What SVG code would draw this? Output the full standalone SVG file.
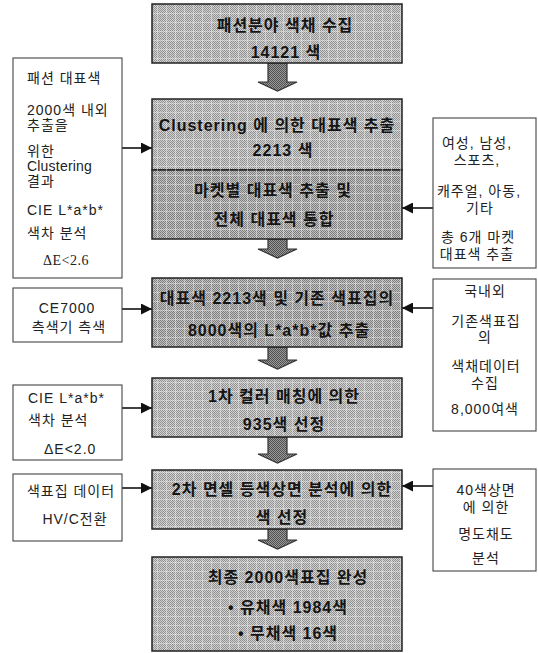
<svg xmlns="http://www.w3.org/2000/svg" width="538" height="653" viewBox="0 0 538 653">
<defs>
<style>
.bg{fill:#fff}
.mainbox{stroke:#222;stroke-width:1.5}
.grid{fill:url(#grid)}
.side{fill:#fff;stroke:#444;stroke-width:1.1}
.mt{font-family:"Liberation Sans","Noto Sans CJK KR",sans-serif;font-weight:bold;font-size:16px;fill:#151515;text-anchor:middle;dominant-baseline:central;letter-spacing:1px}
.st{font-family:"Liberation Sans","Noto Sans CJK KR",sans-serif;font-size:14px;fill:#222;dominant-baseline:central;letter-spacing:1px}
.stc{text-anchor:middle}
.sf{font-family:"Liberation Serif","DejaVu Serif",serif;letter-spacing:0.5px}
.big{fill:url(#dark);stroke:#333;stroke-width:1.2}
.link{stroke:#111;stroke-width:1.6;fill:none;marker-end:url(#ah)}
</style>
<pattern id="chk" width="2" height="2" patternUnits="userSpaceOnUse"><rect width="2" height="2" fill="#d2d2d2"/><rect width="1" height="1" fill="#909090"/><rect x="1" y="1" width="1" height="1" fill="#909090"/></pattern>
<pattern id="chk2" width="2" height="2" patternUnits="userSpaceOnUse"><rect width="2" height="2" fill="#c4c4c4"/><rect width="1" height="1" fill="#7c7c7c"/><rect x="1" y="1" width="1" height="1" fill="#7c7c7c"/></pattern>
<pattern id="dark" width="2" height="2" patternUnits="userSpaceOnUse"><rect width="2" height="2" fill="#9a9a9a"/><rect width="1" height="1" fill="#505050"/><rect x="1" y="1" width="1" height="1" fill="#505050"/></pattern>
<pattern id="grid" width="9" height="9" patternUnits="userSpaceOnUse"><path d="M0,4.5H9M4.5,0V9" stroke="#eeeeee" stroke-opacity="0.45" stroke-width="1"/></pattern>
<marker id="ah" viewBox="0 0 10 10" refX="10" refY="5" markerWidth="11" markerHeight="11" markerUnits="userSpaceOnUse" orient="auto"><path d="M0,0L10,5L0,10z" fill="#111"/></marker>
</defs>
<rect class="bg" width="538" height="653"/>

<g id="connectors">
<polygon class="big" points="268,63 287,63 287,82 297,82 277.5,91 258,82 268,82"/>
<polygon class="big" points="268,239 287,239 287,249 297,249 277.5,258 258,249 268,249"/>
<polygon class="big" points="268,347 287,347 287,360 297,360 277.5,369 258,360 268,360"/>
<polygon class="big" points="268,437 287,437 287,454 297,454 277.5,463 258,454 268,454"/>
<polygon class="big" points="268,529 287,529 287,540 297,540 277.5,549 258,540 268,540"/>
<path class="link" d="M122,148H152"/>
<path class="link" d="M122,309H152"/>
<path class="link" d="M122,408H152"/>
<path class="link" d="M122,488H152"/>
<path class="link" d="M433,208H402"/>
<path class="link" d="M433,308H402"/>
<path class="link" d="M433,486H402"/>
</g>

<g id="n1">
<rect class="mainbox" x="152" y="4" width="250" height="59" fill="url(#chk)"/>
<rect class="grid" x="153" y="5" width="248" height="57"/>
<text class="mt" x="285" y="25">패션분야 색채 수집</text>
<text class="mt" x="286" y="52">14121 색</text>
</g>

<g id="n2">
<rect class="mainbox" x="152" y="99" width="250" height="71" fill="url(#chk)"/>
<rect class="mainbox" x="152" y="170" width="250" height="69" fill="url(#chk2)"/>
<rect class="grid" x="153" y="100" width="248" height="138"/>
<text class="mt" x="277" y="125">Clustering 에 의한 대표색 추출</text>
<text class="mt" x="283" y="150">2213 색</text>
<text class="mt" x="273" y="190">마켓별 대표색 추출 및</text>
<text class="mt" x="274" y="219">전체 대표색 통합</text>
</g>

<g id="n3">
<rect class="mainbox" x="152" y="278" width="250" height="69" fill="url(#chk2)"/>
<rect class="grid" x="153" y="279" width="248" height="67"/>
<text class="mt" x="277" y="298">대표색 2213색 및 기존 색표집의</text>
<text class="mt" x="279" y="330">8000색의 L*a*b*값 추출</text>
</g>

<g id="n4">
<rect class="mainbox" x="152" y="378" width="250" height="59" fill="url(#chk)"/>
<rect class="grid" x="153" y="379" width="248" height="57"/>
<text class="mt" x="284" y="396">1차 컬러 매칭에 의한</text>
<text class="mt" x="284" y="424">935색 선정</text>
</g>

<g id="n5">
<rect class="mainbox" x="152" y="470" width="250" height="59" fill="url(#chk)"/>
<rect class="grid" x="153" y="471" width="248" height="57"/>
<text class="mt" x="282" y="489">2차 면셀 등색상면 분석에 의한</text>
<text class="mt" x="282" y="517">색 선정</text>
</g>

<g id="n6">
<rect class="mainbox" x="152" y="557" width="250" height="94" fill="url(#chk)"/>
<rect class="grid" x="153" y="558" width="248" height="92"/>
<text class="mt" x="288" y="577">최종 2000색표집 완성</text>
<text class="mt" x="288" y="607">• 유채색 1984색</text>
<text class="mt" x="288" y="633">• 무채색 16색</text>
</g>

<g id="L1">
<rect class="side" x="13" y="58" width="109" height="220"/>
<text class="st" x="27" y="78">패션 대표색</text>
<text class="st" x="27" y="110">2000색 내외</text>
<text class="st" x="27" y="125">추출을</text>
<text class="st" x="27" y="151">위한</text>
<text class="st" x="27" y="166" style="letter-spacing:0.2px">Clustering</text>
<text class="st" x="27" y="181">결과</text>
<text class="st" x="27" y="210">CIE L*a*b*</text>
<text class="st" x="27" y="233">색차 분석</text>
<text class="st sf" x="43" y="260">ΔE&lt;2.6</text>
</g>

<g id="L2">
<rect class="side" x="13" y="288" width="109" height="54"/>
<text class="st stc" x="67" y="308">CE7000</text>
<text class="st stc" x="69" y="327">측색기 측색</text>
</g>

<g id="L3">
<rect class="side" x="13" y="385" width="109" height="75"/>
<text class="st" x="28" y="398">CIE L*a*b*</text>
<text class="st" x="28" y="420">색차 분석</text>
<text class="st" x="44" y="449">ΔE&lt;2.0</text>
</g>

<g id="L4">
<rect class="side" x="13" y="474" width="109" height="67"/>
<text class="st stc" x="71" y="491">색표집 데이터</text>
<text class="st stc" x="75" y="519">HV/C전환</text>
</g>

<g id="R1">
<rect class="side" x="433" y="118" width="103" height="150"/>
<text class="st stc" x="477" y="143">여성, 남성,</text>
<text class="st stc" x="477" y="160">스포츠,</text>
<text class="st stc" x="479" y="191">캐주얼, 아동,</text>
<text class="st stc" x="480" y="208">기타</text>
<text class="st stc" x="478" y="237">총 6개 마켓</text>
<text class="st stc" x="477" y="254">대표색 추출</text>
</g>

<g id="R2">
<rect class="side" x="433" y="279" width="103" height="152"/>
<text class="st stc" x="485" y="291">국내외</text>
<text class="st stc" x="486" y="321">기존색표집</text>
<text class="st stc" x="485" y="337">의</text>
<text class="st stc" x="486" y="366">색채데이터</text>
<text class="st stc" x="485" y="383">수집</text>
<text class="st stc" x="485" y="409">8,000여색</text>
</g>

<g id="R3">
<rect class="side" x="433" y="469" width="103" height="102"/>
<text class="st stc" x="486" y="490">40색상면</text>
<text class="st stc" x="486" y="507">에 의한</text>
<text class="st stc" x="486" y="534">명도채도</text>
<text class="st stc" x="486" y="558">분석</text>
</g>
</svg>
